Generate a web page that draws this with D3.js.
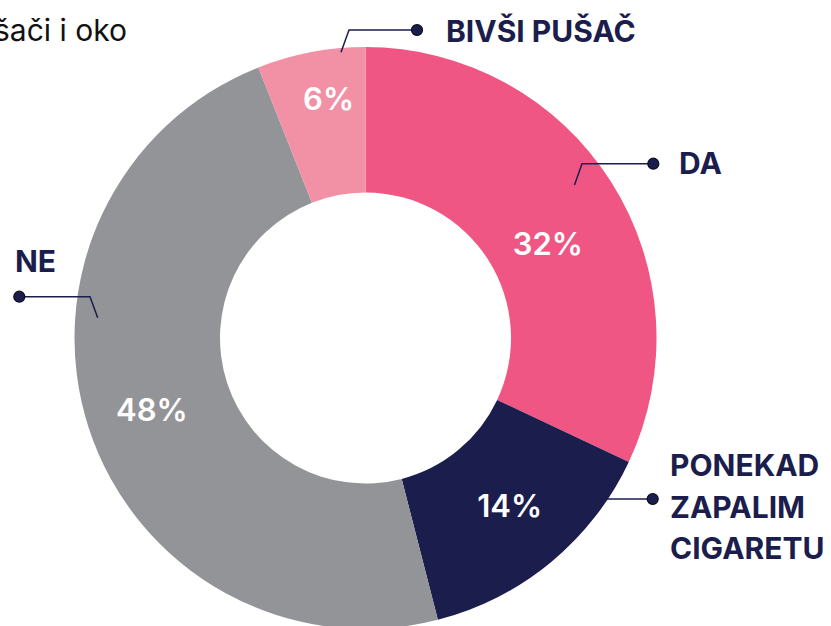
<!DOCTYPE html>
<html>
<head>
<meta charset="utf-8">
<script src="https://cdn.jsdelivr.net/npm/d3@7"></script>
<style>
  body { margin: 0; background: #fff; }
  svg { display: block; font-family: Inter, "Noto Sans", sans-serif; }
</style>
</head>
<body>
<svg id="chart" width="831" height="626"></svg>
<script>
// Pušači - donut
const categories = ['DA', 'PONEKAD ZAPALIM CIGARETU', 'NE', 'BIVŠI PUŠAČ'];
const values = [32, 14, 48, 6];
const colors = ['#EF5683', '#1B1E4C', '#939497', '#F291A6'];
const labelLines = [['DA'], ['PONEKAD', 'ZAPALIM', 'CIGARETU'], ['NE'], ['BIVŠI PUŠAČ']];
const title = 'Pušači i oko';

(function() {
    const svg = d3.select('#chart');
    const cx = 365.5, cy = 338;
    const outerR = 291, innerR = 145.5;
    const navy = '#1B1E4C';

    // callout layout, offsets from the centre: anchor, elbow, dot, text
    const callouts = [
        { a: [209, -153], e: [216.5, -174.3], d: [287.8, -174.3], t: [313.5, -164] },
        { a: [224.5, 161], e: [224.5, 161], d: [287.2, 161], t: [304.5, 138] },
        { a: [-267.8, -20.3], e: [-275.5, -41.3], d: [-346.2, -41.3], t: [-350.5, -66] },
        { a: [-24.5, -285.7], e: [-16.5, -308], d: [51.5, -308], t: [80.5, -296.3] }
    ];
    // small nudges for the percent labels
    const pctNudge = [[-2, 23], [5, 0], [-6, 4], [4, -25]];

    svg.append('text')
        .attr('x', 127)
        .attr('y', 41)
        .attr('text-anchor', 'end')
        .attr('font-size', '30px')
        .attr('fill', '#111')
        .text(title);

    const g = svg.append('g')
        .attr('transform', `translate(${cx}, ${cy})`);

    const pie = d3.pie().sort(null).value(d => d)(values);
    const arc = d3.arc().innerRadius(innerR).outerRadius(outerR);

    g.selectAll('path.slice')
        .data(pie)
        .join('path')
        .attr('class', 'slice')
        .attr('d', arc)
        .attr('fill', (d, i) => colors[i]);

    g.selectAll('text.pct')
        .data(pie)
        .join('text')
        .attr('class', 'pct')
        .attr('transform', (d, i) => {
            const c = arc.centroid(d);
            return `translate(${c[0] + pctNudge[i][0]}, ${c[1] + pctNudge[i][1]})`;
        })
        .attr('text-anchor', 'middle')
        .attr('dy', '0.36em')
        .attr('font-size', '31px')
        .attr('font-weight', 600)
        .attr('fill', '#fff')
        .text(d => d.value + '%');

    // leader lines + labels
    callouts.forEach((c, i) => {
        g.append('polyline')
            .attr('points', [c.a, c.e, c.d].map(p => p.join(',')).join(' '))
            .attr('fill', 'none')
            .attr('stroke', navy)
            .attr('stroke-width', 1.5);

        g.append('circle')
            .attr('cx', c.d[0])
            .attr('cy', c.d[1])
            .attr('r', 5.5)
            .attr('fill', navy)
            .attr('stroke', '#0a0a1a')
            .attr('stroke-width', 1.2);

        const t = g.append('text')
            .attr('x', c.t[0])
            .attr('y', c.t[1])
            .attr('font-size', '30px')
            .attr('font-weight', 700)
            .attr('fill', navy);
        labelLines[i].forEach((line, j) => {
            t.append('tspan')
                .attr('x', c.t[0])
                .attr('y', c.t[1] + j * 41.5)
                .text(line);
        });
    });
})();
</script>
</body>
</html>
